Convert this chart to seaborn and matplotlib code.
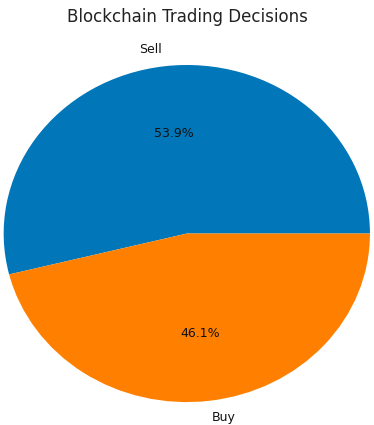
import matplotlib
matplotlib.use("Agg")
import matplotlib.pyplot as plt
import seaborn as sns

# Data
decisions = ["Sell", "Buy"]
counts = [53.9, 46.1]
colors = ["#0176b8", "#ff8000"]

sns.set_style("white")
plt.rcParams["font.family"] = ["DejaVu Sans"]

fig = plt.figure(figsize=(3.74, 4.25), dpi=100)
ax = fig.add_axes([0.0, 0.046, 0.999, 0.809])

ax.pie(
    counts,
    labels=decisions,
    colors=sns.color_palette(colors),
    autopct="%1.1f%%",
    wedgeprops={"linewidth": 0},
    textprops={"fontsize": 9, "color": "#111111"},
)

# the reference is stretched a little sideways, so drop the equal aspect
ax.set_aspect("auto")
ax.set_xlim(-1.02, 1.02)
ax.set_ylim(-1.02, 1.02)

fig.text(0.5, 1 - 17 / 425, "Blockchain Trading Decisions",
         ha="center", va="center", fontsize=12, color="#222222")

fig.savefig("out.png", dpi=100)
